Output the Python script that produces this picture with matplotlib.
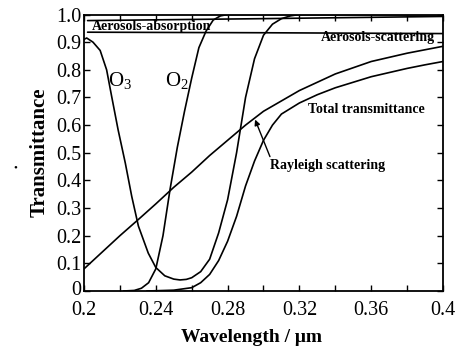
import matplotlib
matplotlib.use("Agg")
import matplotlib.pyplot as plt
import matplotlib.transforms as mtransforms
import numpy as np

# ---- data ----
abs_x = [0.202, 0.30, 0.40]
abs_y = [0.978, 0.985, 0.993]

sca_x = [0.202, 0.30, 0.40]
sca_y = [0.936, 0.934, 0.931]

o3_x = [0.200, 0.2015, 0.205, 0.209, 0.2126, 0.2154, 0.219, 0.223, 0.2266, 0.2303,
        0.2358, 0.240, 0.245, 0.250, 0.2535, 0.257, 0.260, 0.265, 0.270, 0.275,
        0.280, 0.285, 0.290, 0.295, 0.300, 0.305, 0.310, 0.315, 0.320, 0.400]
o3_y = [0.910, 0.915, 0.900, 0.870, 0.800, 0.704, 0.583, 0.463, 0.342, 0.235,
        0.137, 0.085, 0.055, 0.043, 0.040, 0.042, 0.048, 0.070, 0.115, 0.210,
        0.330, 0.500, 0.700, 0.840, 0.925, 0.965, 0.985, 0.995, 1.000, 1.000]

o2_x = [0.222, 0.228, 0.232, 0.236, 0.240, 0.244, 0.248, 0.252, 0.256, 0.260,
        0.264, 0.268, 0.272, 0.276, 0.280, 0.400]
o2_y = [0.000, 0.002, 0.010, 0.030, 0.080, 0.200, 0.370, 0.520, 0.650, 0.770,
        0.880, 0.940, 0.980, 0.995, 1.000, 1.000]

ray_x = [0.200, 0.210, 0.220, 0.230, 0.240, 0.250, 0.260, 0.270, 0.280, 0.290,
         0.300, 0.320, 0.340, 0.360, 0.380, 0.400]
ray_y = [0.080, 0.140, 0.200, 0.257, 0.315, 0.375, 0.430, 0.490, 0.545, 0.600,
         0.650, 0.725, 0.785, 0.830, 0.860, 0.885]

tot_x = [0.235, 0.250, 0.260, 0.265, 0.270, 0.275, 0.280, 0.285, 0.290, 0.295,
         0.300, 0.305, 0.310, 0.320, 0.330, 0.340, 0.350, 0.360, 0.370, 0.380,
         0.390, 0.400]
tot_y = [0.000, 0.003, 0.012, 0.030, 0.060, 0.110, 0.180, 0.270, 0.380, 0.470,
         0.545, 0.600, 0.640, 0.680, 0.710, 0.735, 0.755, 0.775, 0.790, 0.805,
         0.818, 0.830]

xticks = [0.2, 0.24, 0.28, 0.32, 0.36, 0.4]
xticklabels = ["0.2", "0.24", "0.28", "0.32", "0.36", "0.4"]
yticks = [0, 0.1, 0.2, 0.3, 0.4, 0.5, 0.6, 0.7, 0.8, 0.9, 1.0]
yticklabels = ["0", "0.1", "0.2", "0.3", "0.4", "0.5", "0.6", "0.7", "0.8", "0.9", "1.0"]

serif = ["Liberation Serif", "DejaVu Serif"]
plt.rcParams["font.family"] = serif
plt.rcParams["mathtext.fontset"] = "custom"
plt.rcParams["mathtext.rm"] = "Liberation Serif"

fig = plt.figure(figsize=(4.57, 3.52), dpi=100)
ax = fig.add_axes([84/457, 1-291/352, (443-84)/457, (291-14.5)/352])

lw = 1.2
for xs, ys in [(abs_x, abs_y), (sca_x, sca_y), (o3_x, o3_y), (o2_x, o2_y),
               (ray_x, ray_y), (tot_x, tot_y)]:
    ax.plot(xs, ys, color="black", lw=lw, solid_capstyle="round")

ax.set_xlim(0.2, 0.4)
ax.set_ylim(0, 1.0)
ax.set_xticks(xticks)
ax.set_xticklabels(xticklabels)
ax.set_xticks(np.arange(0.2, 0.4001, 0.02), minor=True)
ax.set_yticks(yticks)
ax.set_yticklabels(yticklabels)
ax.tick_params(which="both", direction="in", top=True, right=True,
               length=4, width=1.0, labelsize=14.5)
ax.tick_params(axis="x", pad=7)
ax.tick_params(axis="y", pad=2)
ax.tick_params(which="minor", length=4)
for s in ax.spines.values():
    s.set_linewidth(1.3)

# lift the "0" label a touch so it does not collide with "0.2"
lbl0 = ax.get_yticklabels()[0]
lbl0.set_transform(lbl0.get_transform() +
                   mtransforms.ScaledTranslation(0, 3/100, fig.dpi_scale_trans))

tkw = dict(fontsize=10, fontweight="bold", color="black")
ax.text(0.2045, 0.955, "Aerosols-absorption", ha="left", va="center", **tkw)
ax.text(0.3955, 0.917, "Aerosols-scattering", ha="right", va="center", **tkw)
ax.text(0.3248, 0.656, "Total transmittance", ha="left", va="center", **tkw)
ax.text(0.3036, 0.453, "Rayleigh scattering", ha="left", va="center", **tkw)
ax.annotate("", xy=(0.2953, 0.62), xytext=(0.3036, 0.486),
            arrowprops=dict(arrowstyle="-|>", color="black", lw=1.0,
                            mutation_scale=8, shrinkA=0, shrinkB=0))

ax.text(0.2135, 0.757, r"O$_3$", fontsize=15, ha="left", va="center")
ax.text(0.2450, 0.757, r"O$_2$", fontsize=15, ha="left", va="center")

fig.text(251/457, 1-338/352, "Wavelength / μm", ha="center", va="center",
         fontsize=14, fontweight="bold")
fig.text(40/457, 1-152/352, "Transmittance", ha="center", va="center",
         rotation=90, fontsize=15, fontweight="bold")
fig.text(15/457, 1-168/352, "•", ha="center", va="center", fontsize=8)

fig.savefig("out.png", dpi=100)
